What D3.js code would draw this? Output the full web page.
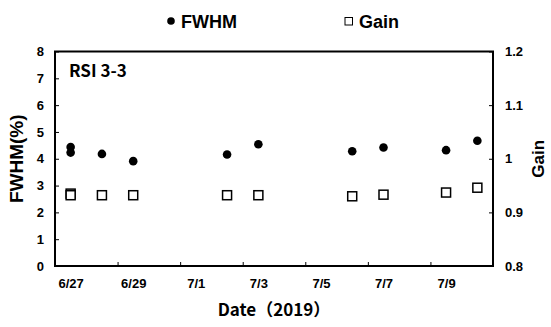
<!DOCTYPE html>
<html>
<head>
<meta charset="utf-8">
<script src="https://cdn.jsdelivr.net/npm/d3@7"></script>
<style>
  body { margin: 0; background: #fff; }
  svg { display: block; }
</style>
</head>
<body>
<script>
const dates = ["2019-06-27", "2019-06-27", "2019-06-28", "2019-06-29", "2019-07-02",
               "2019-07-03", "2019-07-06", "2019-07-07", "2019-07-09", "2019-07-10"];
const fwhm = [4.44, 4.23, 4.18, 3.91, 4.16, 4.54, 4.28, 4.42, 4.32, 4.67];
const gain = [0.935, 0.932, 0.932, 0.932, 0.932, 0.932, 0.930, 0.933, 0.937, 0.946];

const xLabels = ["6/27", "6/29", "7/1", "7/3", "7/5", "7/7", "7/9"];
const leftTicks = [0, 1, 2, 3, 4, 5, 6, 7, 8];
const rightTicks = [0.8, 0.9, 1.0, 1.1, 1.2];

const width = 551;
const height = 327;
const margin = { left: 55, right: 58, top: 51.5, bottom: 61 };

const parse = d3.timeParse("%Y-%m-%d");
const data = dates.map((d, i) => ({ date: parse(d), fwhm: fwhm[i], gain: gain[i] }));

const day = 24 * 3600 * 1000;
const x = d3.scaleTime()
    .domain([new Date(parse("2019-06-27") - day / 2), new Date(parse("2019-07-10").getTime() + day / 2)])
    .range([margin.left, width - margin.right]);

const y = d3.scaleLinear().domain([0, 8]).range([height - margin.bottom, margin.top]);
const y2 = d3.scaleLinear().domain([0.8, 1.2]).range([height - margin.bottom, margin.top]);

const svg = d3.select("body").append("svg")
    .attr("width", width)
    .attr("height", height);

const tickFont = "'Liberation Sans', Arial, sans-serif";

// tick marks between the labelled dates
const tickDates = d3.range(1, 7).map(k => new Date(parse("2019-06-28").getTime() + day / 2 + (k - 1) * 2 * day));
svg.append("g")
    .attr("transform", `translate(0, ${height - margin.bottom})`)
    .call(d3.axisBottom(x).tickValues(tickDates).tickFormat("").tickSizeInner(-4).tickSizeOuter(0))
    .call(g => g.select(".domain").remove());

// date labels
const labelDates = xLabels.map(l => {
    const [m, dd] = l.split("/").map(Number);
    return new Date(2019, m - 1, dd);
});
svg.append("g")
    .attr("transform", `translate(0, ${height - margin.bottom})`)
    .call(d3.axisBottom(x).tickValues(labelDates).tickFormat((d, i) => xLabels[i]).tickSize(0).tickPadding(13))
    .call(g => g.select(".domain").remove())
    .selectAll("text")
    .attr("font-family", tickFont)
    .attr("font-weight", "bold")
    .attr("font-size", 13)
    .attr("fill", "#000");

svg.append("g")
    .attr("transform", `translate(${margin.left}, 0)`)
    .call(d3.axisLeft(y).tickValues(leftTicks).tickFormat(d3.format("d")).tickSizeInner(-4).tickSizeOuter(0).tickPadding(11))
    .call(g => g.select(".domain").remove())
    .selectAll("text")
    .attr("font-family", tickFont)
    .attr("font-weight", "bold")
    .attr("font-size", 13)
    .attr("fill", "#000");

svg.append("g")
    .attr("transform", `translate(${width - margin.right}, 0)`)
    .call(d3.axisRight(y2).tickValues(rightTicks).tickFormat(d => d === 1 ? "1" : d3.format(".1f")(d)).tickSizeInner(-4).tickSizeOuter(0).tickPadding(12))
    .call(g => g.select(".domain").remove())
    .selectAll("text")
    .attr("font-family", tickFont)
    .attr("font-weight", "bold")
    .attr("font-size", 13)
    .attr("fill", "#000");

svg.selectAll(".tick line").attr("stroke", "#000");

// frame
svg.append("rect")
    .attr("x", margin.left)
    .attr("y", margin.top)
    .attr("width", width - margin.left - margin.right)
    .attr("height", height - margin.top - margin.bottom)
    .attr("fill", "none")
    .attr("stroke", "#000")
    .attr("stroke-width", 2);

// Gain squares
const s = 9;
svg.selectAll(".gain")
    .data(data)
    .join("rect")
    .attr("class", "gain")
    .attr("x", d => x(d.date) - s / 2)
    .attr("y", d => y2(d.gain) - s / 2)
    .attr("width", s)
    .attr("height", s)
    .attr("fill", "#fff")
    .attr("stroke", "#000")
    .attr("stroke-width", 1.5);

// FWHM dots
svg.selectAll(".fwhm")
    .data(data)
    .join("circle")
    .attr("class", "fwhm")
    .attr("cx", d => x(d.date))
    .attr("cy", d => y(d.fwhm))
    .attr("r", 4.3)
    .attr("fill", "#000");

// panel label
svg.append("text")
    .attr("x", 69)
    .attr("y", 77)
    .attr("font-family", "'Noto Sans CJK JP', 'Noto Sans', sans-serif")
    .attr("font-weight", "bold")
    .attr("font-size", 17)
    .text("RSI 3-3");

// axis titles
svg.append("text")
    .attr("transform", `translate(23, ${(margin.top + height - margin.bottom) / 2}) rotate(-90)`)
    .attr("text-anchor", "middle")
    .attr("font-family", tickFont)
    .attr("font-weight", "bold")
    .attr("font-size", 19)
    .text("FWHM(%)");

svg.append("text")
    .attr("transform", `translate(544, ${(margin.top + height - margin.bottom) / 2}) rotate(-90)`)
    .attr("text-anchor", "middle")
    .attr("font-family", tickFont)
    .attr("font-weight", "bold")
    .attr("font-size", 17)
    .text("Gain");

svg.append("text")
    .attr("x", (margin.left + width - margin.right) / 2)
    .attr("y", 316)
    .attr("text-anchor", "middle")
    .attr("font-family", "'Noto Sans CJK JP', 'Noto Sans', sans-serif")
    .attr("font-weight", "bold")
    .attr("font-size", 17)
    .text("Date（2019）");

// legend
const legend = svg.append("g");
legend.append("circle").attr("cx", 171).attr("cy", 21).attr("r", 3.8).attr("fill", "#000");
legend.append("text")
    .attr("x", 181).attr("y", 27.5)
    .attr("font-family", tickFont).attr("font-weight", "bold").attr("font-size", 18)
    .text("FWHM");
legend.append("rect")
    .attr("x", 345).attr("y", 17.5).attr("width", 7.5).attr("height", 7.5)
    .attr("fill", "#fff").attr("stroke", "#000").attr("stroke-width", 1);
legend.append("text")
    .attr("x", 359).attr("y", 27.5)
    .attr("font-family", tickFont).attr("font-weight", "bold").attr("font-size", 18)
    .text("Gain");
</script>
</body>
</html>
